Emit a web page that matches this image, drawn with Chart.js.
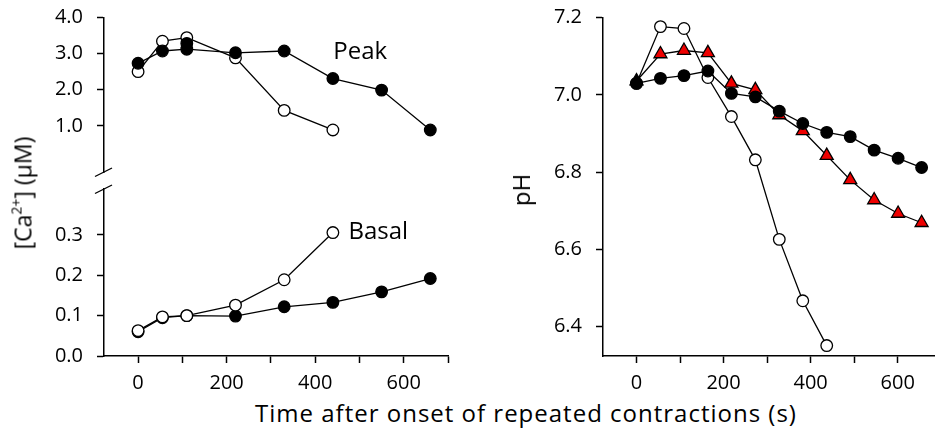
<!DOCTYPE html>
<html>
<head>
<meta charset="utf-8">
<script src="https://cdn.jsdelivr.net/npm/chart.js@4.4.1/dist/chart.umd.min.js"></script>
<style>
  body { margin: 0; width: 935px; height: 429px; overflow: hidden; background: #fff; position: relative;
         font-family: "Open Sans", sans-serif; color: #000; }
  canvas { position: absolute; }
  .lbl { position: absolute; white-space: nowrap; font-size: 24px; line-height: 1; }
  .rot { transform: translate(-50%, -50%) rotate(-90deg); }
  sup { font-size: 14px; vertical-align: 10px; }
</style>
</head>
<body>
<canvas id="peak" style="left:0;top:0" width="470" height="185"></canvas>
<canvas id="basal" style="left:0;top:170px" width="470" height="225"></canvas>
<canvas id="ph" style="left:480px;top:0" width="470" height="395"></canvas>

<div class="lbl rot" style="left:22px;top:193px;font-size:23px">[Ca<sup>2+</sup>] (µM)</div>
<div class="lbl rot" style="left:521px;top:190px">pH</div>
<div class="lbl" style="left:526px;top:413px;transform:translate(-50%,-50%);letter-spacing:1px">Time after onset of repeated contractions (s)</div>

<script>
// Ca2+ panels (left)
let timeCaFilled = [0, 55, 110, 220, 330, 440, 550, 660];
let timeCaOpen = [0, 55, 110, 220, 330, 440];

let peakFilled = [2.73, 3.07, 3.12, 3.02, 3.07, 2.31, 1.99, 0.89];
let peakOpen = [2.50, 3.34, 3.44, 2.88, 1.43, 0.89];
let peakExtraTime = [110];
let peakExtra = [3.28];

let basalFilled = [0.060, 0.095, 0.100, 0.099, 0.122, 0.133, 0.159, 0.192];
let basalOpen = [0.063, 0.097, 0.100, 0.126, 0.189, 0.306];

// pH panel (right)
let timePh = [0, 55, 109, 164, 218, 273, 328, 382, 437, 491, 546, 601, 655];
let phFilled = [7.03, 7.043, 7.050, 7.062, 7.004, 6.995, 6.958, 6.926, 6.903, 6.892, 6.857, 6.836, 6.812];
let phTriangle = [7.036, 7.106, 7.115, 7.109, 7.030, 7.013, 6.948, 6.907, 6.843, 6.780, 6.728, 6.693, 6.669];
let phOpen = [7.03, 7.177, 7.172, 7.045, 6.944, 6.832, 6.626, 6.467, 6.351];

// ticks
let xTicks = [0, 100, 200, 300, 400, 500, 600, 700];
let peakTicks = [1, 2, 3, 4];
let basalTicks = [0, 0.1, 0.2, 0.3];
let phTicks = [6.4, 6.6, 6.8, 7.0, 7.2];

const FONT = '"Open Sans", sans-serif';

function pts(xs, ys) {
    return ys.map((v, i) => ({ x: xs[i], y: v }));
}

function series(xs, ys, fill, style, radius) {
    return {
        data: pts(xs, ys),
        borderColor: '#000',
        borderWidth: 1.3,
        backgroundColor: fill,
        pointBackgroundColor: fill,
        pointBorderColor: '#000',
        pointBorderWidth: 1.3,
        pointStyle: style || 'circle',
        pointRadius: radius || 5.8,
        tension: 0,
        clip: false
    };
}

function xScale(show) {
    let s = {
        type: 'linear', min: -77, max: 700, display: show,
        afterBuildTicks: s => { s.ticks = xTicks.map(v => ({ value: v })); },
        ticks: {
            callback: v => (v % 200 === 0 ? String(v) : ''),
            color: '#000', font: { size: 20, family: FONT }, padding: 8,
            maxRotation: 0, autoSkip: false
        },
        grid: { drawOnChartArea: false, tickLength: 7, tickColor: '#000', tickWidth: 1.5 },
        border: { color: '#000', width: 1.5 }
    };
    if (show) {
        s.afterFit = sc => { sc.height = 39; sc.paddingLeft = 0; sc.paddingRight = 0; };
    }
    return s;
}

function yScale(min, max, ticks, width, digits) {
    return {
        type: 'linear', min: min, max: max,
        afterBuildTicks: s => { s.ticks = ticks.map(v => ({ value: v })); },
        afterFit: s => { s.width = width; s.paddingTop = 0; s.paddingBottom = 0; },
        ticks: {
            callback: v => v.toFixed(digits),
            color: '#000', font: { size: 20, family: FONT }, padding: 14, autoSkip: false
        },
        grid: { drawOnChartArea: false, tickLength: 7, tickColor: '#000', tickWidth: 1.5 },
        border: { color: '#000', width: 1.5 }
    };
}

// text beside a curve, placed in data units
const textLabel = {
    id: 'textLabel',
    afterDatasetsDraw(chart, args, opts) {
        if (!opts.text) return;
        const ctx = chart.ctx;
        ctx.save();
        ctx.font = '24px ' + FONT;
        ctx.fillStyle = '#000';
        ctx.textAlign = 'left';
        ctx.textBaseline = 'middle';
        ctx.fillText(opts.text, chart.scales.x.getPixelForValue(opts.x), chart.scales.y.getPixelForValue(opts.y));
        ctx.restore();
    }
};

// slash on the y axis where it is broken
const axisBreak = {
    id: 'axisBreak',
    afterDraw(chart, args, opts) {
        if (!opts.at) return;
        const ctx = chart.ctx;
        const a = chart.chartArea;
        const y = opts.at === 'bottom' ? a.bottom : a.top;
        ctx.save();
        ctx.strokeStyle = '#000';
        ctx.lineWidth = 1.3;
        ctx.beginPath();
        ctx.moveTo(a.left - 9, y + 4.5);
        ctx.lineTo(a.left + 8, y - 4);
        ctx.stroke();
        ctx.restore();
    }
};

Chart.register(textLabel, axisBreak);

const common = {
    responsive: false,
    animation: false,
    events: [],
    plugins: { legend: { display: false }, tooltip: { enabled: false } }
};

new Chart(document.getElementById('peak'), {
    type: 'line',
    data: {
        datasets: [
            Object.assign(series(peakExtraTime, peakExtra, '#000'), { showLine: false }),
            series(timeCaFilled, peakFilled, '#000'),
            series(timeCaOpen, peakOpen, '#fff')
        ]
    },
    options: Object.assign({}, common, {
        layout: { padding: { top: 17.3, bottom: 13, left: 0, right: 22 } },
        scales: { x: xScale(false), y: yScale(-0.27, 4.0, peakTicks, 104, 1) },
        plugins: Object.assign({}, common.plugins, {
            textLabel: { text: 'Peak', x: 441, y: 3.04 },
            axisBreak: { at: 'bottom' }
        })
    })
});

new Chart(document.getElementById('basal'), {
    type: 'line',
    data: {
        datasets: [
            series(timeCaOpen, basalOpen, '#fff'),
            series(timeCaFilled, basalFilled, '#000')
        ]
    },
    options: Object.assign({}, common, {
        layout: { padding: { top: 19, bottom: 0, left: 0, right: 22 } },
        scales: { x: xScale(true), y: yScale(0, 0.414, basalTicks, 104, 1) },
        plugins: Object.assign({}, common.plugins, {
            textLabel: { text: 'Basal', x: 475, y: 0.308 },
            axisBreak: { at: 'top' }
        })
    })
});

// first triangle is drawn black in the reference
let triFill = phTriangle.map((v, i) => (i === 0 ? '#000' : '#ee0000'));

new Chart(document.getElementById('ph'), {
    type: 'line',
    data: {
        datasets: [
            series(timePh, phFilled, '#000'),
            Object.assign(series(timePh, phTriangle, '#ee0000', 'triangle', 7.5), { pointBackgroundColor: triFill }),
            series(timePh, phOpen, '#fff')
        ]
    },
    options: Object.assign({}, common, {
        layout: { padding: { top: 17.7, bottom: 0, left: 0, right: 3.8 } },
        scales: { x: xScale(true), y: yScale(6.324, 7.2, phTicks, 123, 1) }
    })
});
</script>
</body>
</html>
